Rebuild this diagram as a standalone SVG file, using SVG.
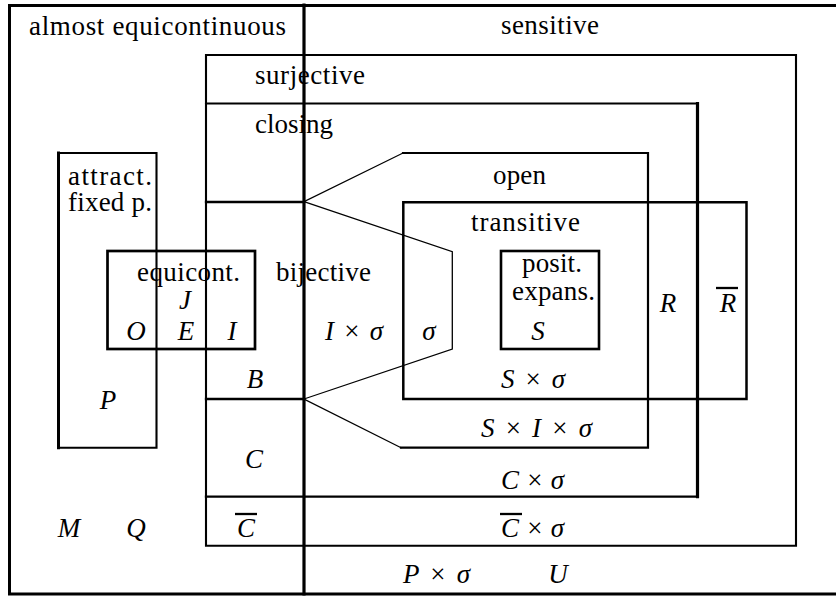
<svg xmlns="http://www.w3.org/2000/svg" width="836" height="597" viewBox="0 0 836 597">
<style>
  .ln { stroke: #000; fill: none; stroke-linecap: square; }
  .t { font-family: "Liberation Serif", "Times New Roman", serif; font-size: 27px; fill: #000; }
  .m { font-family: "Liberation Serif", "Times New Roman", serif; font-size: 27px; font-style: italic; fill: #000; }
  .op { font-style: normal; }
  .mid { text-anchor: middle; }
  .bar { stroke: #000; stroke-width: 2.3; }
</style>
<rect width="836" height="597" fill="#fff"/>

<g id="almost-equicontinuous">
  <path class="ln" stroke-width="3" d="M840,5.5 H9.5 V594 H840"/>
  <text class="t" x="29" y="35" textLength="257" lengthAdjust="spacing">almost equicontinuous</text>
</g>

<g id="sensitive">
  <line class="ln" stroke-width="3.2" x1="304" y1="5" x2="304" y2="594"/>
  <text class="t" x="501" y="34" textLength="98" lengthAdjust="spacing">sensitive</text>
</g>

<g id="surjective">
  <path class="ln" stroke-width="2.1" d="M206,55 H796 V545.7 H206 Z"/>
  <text class="t" x="255" y="84" textLength="110" lengthAdjust="spacing">surjective</text>
</g>

<g id="closing">
  <path class="ln" stroke-width="2.1" d="M206,103.5 H697"/>
  <line class="ln" stroke-width="3.2" x1="697.5" y1="103.5" x2="697.5" y2="496.7"/>
  <line class="ln" stroke-width="2.3" x1="206" y1="496.7" x2="697.5" y2="496.7"/>
  <text class="t" x="255" y="133" textLength="78" lengthAdjust="spacing">closing</text>
</g>

<g id="open">
  <path class="ln" stroke-width="2.2" d="M403,153 H648 V447.7 H401"/>
  <path class="ln" stroke-width="1.3" stroke-linejoin="miter" d="M403,153 L304,201.7 L452.3,251.7 V349 L304,399 L401,447.7"/>
  <text class="t" x="493" y="184" textLength="53" lengthAdjust="spacing">open</text>
</g>

<g id="bijective">
  <line class="ln" stroke-width="2.3" x1="206" y1="202" x2="304" y2="202"/>
  <line class="ln" stroke-width="2.3" x1="206" y1="399" x2="304" y2="399"/>
  <text class="t" x="276" y="281" textLength="95" lengthAdjust="spacing">bijective</text>
</g>

<g id="transitive">
  <path class="ln" stroke-width="2.5" d="M403.3,202.3 H746.5 V399 H403.3 Z"/>
  <text class="t" x="471" y="231" textLength="109" lengthAdjust="spacing">transitive</text>
</g>

<g id="positively-expansive">
  <rect class="ln" stroke-width="2.6" x="501" y="251" width="98" height="98"/>
  <text class="t" x="522" y="272" textLength="60" lengthAdjust="spacing">posit.</text>
  <text class="t" x="512" y="300" textLength="83" lengthAdjust="spacing">expans.</text>
</g>

<g id="attracting-fixed-point">
  <path class="ln" stroke-width="2.1" d="M58.5,153 H156.5 V447.7 H58.5"/>
  <line class="ln" stroke-width="3" x1="58.5" y1="153" x2="58.5" y2="447.7"/>
  <text class="t" x="68" y="185" textLength="84" lengthAdjust="spacing">attract.</text>
  <text class="t" x="68" y="211" textLength="84" lengthAdjust="spacing">fixed p.</text>
</g>

<g id="equicontinuous">
  <rect class="ln" stroke-width="2.7" x="107.5" y="251" width="147.5" height="98"/>
  <text class="t" x="137" y="281" textLength="103" lengthAdjust="spacing">equicont.</text>
</g>

<g id="labels">
  <text class="m mid" x="185" y="309">J</text>
  <text class="m mid" x="136" y="340">O</text>
  <text class="m mid" x="186" y="340">E</text>
  <text class="m mid" x="232" y="340">I</text>
  <text class="m" x="325" y="340" textLength="58" lengthAdjust="spacing">I <tspan class="op">×</tspan> σ</text>
  <text class="m mid" x="429" y="340">σ</text>
  <text class="m mid" x="538" y="340">S</text>
  <text class="m mid" x="668" y="312">R</text>
  <text class="m mid" x="728" y="312">R</text>
  <line class="bar" x1="716" y1="288" x2="738" y2="288"/>
  <text class="m" x="501" y="388" textLength="64" lengthAdjust="spacing">S <tspan class="op">×</tspan> σ</text>
  <text class="m mid" x="255" y="388">B</text>
  <text class="m mid" x="108" y="409">P</text>
  <text class="m" x="481" y="437" textLength="111" lengthAdjust="spacing">S <tspan class="op">×</tspan> I <tspan class="op">×</tspan> σ</text>
  <text class="m mid" x="254" y="468">C</text>
  <text class="m" x="501" y="489" textLength="63" lengthAdjust="spacing">C <tspan class="op">×</tspan> σ</text>
  <text class="m mid" x="69" y="537">M</text>
  <text class="m mid" x="136" y="537">Q</text>
  <text class="m mid" x="246" y="537">C</text>
  <line class="bar" x1="235" y1="514" x2="257" y2="514"/>
  <text class="m" x="501" y="537" textLength="63" lengthAdjust="spacing">C <tspan class="op">×</tspan> σ</text>
  <line class="bar" x1="500" y1="514" x2="522" y2="514"/>
  <text class="m" x="403" y="583" textLength="67" lengthAdjust="spacing">P <tspan class="op">×</tspan> σ</text>
  <text class="m mid" x="558" y="583">U</text>
</g>
</svg>
